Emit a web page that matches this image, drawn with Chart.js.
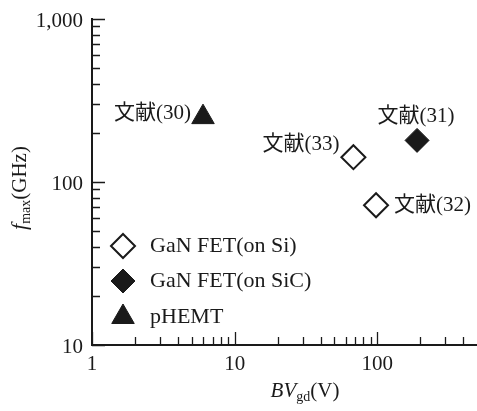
<!DOCTYPE html>
<html>
<head>
<meta charset="utf-8">
<script src="https://cdn.jsdelivr.net/npm/chart.js@4.4.1/dist/chart.umd.min.js"></script>
<style>
  html, body { margin: 0; padding: 0; background: #fff; }
  #wrap { width: 477px; height: 411px; }
</style>
</head>
<body>
<div id="wrap"><canvas id="chart"></canvas></div>
<script>
// values
const onSiX = [68, 98];
const onSiY = [142, 72];
const onSiRefs = ['文献(33)', '文献(32)'];

const onSiCX = [190];
const onSiCY = [180];
const onSiCRefs = ['文献(31)'];

const phemtX = [6];
const phemtY = [250];
const phemtRefs = ['文献(30)'];

const legendLabels = ['GaN FET(on Si)', 'GaN FET(on SiC)', 'pHEMT'];

const xMajorTicks = [1, 10, 100];
const xTickLabels = ['1', '10', '100'];
const xMinorTicks = [2, 3, 4, 5, 6, 7, 8, 9, 20, 30, 40, 50, 60, 70, 80, 90, 200, 300, 400];
const yMajorTicks = [10, 100, 1000];
const yTickLabels = ['10', '100', '1,000'];
const yMinorTicks = [20, 30, 40, 50, 60, 70, 80, 90, 200, 300, 400, 500, 600, 700, 800, 900];

const INK = '#1a1a1a';
const SERIF = '"Liberation Serif", "Times New Roman", serif';
const LABEL_FONT = '21px "Liberation Serif", "Noto Sans CJK JP", serif';

function toPoints(xs, ys) {
  return xs.map((x, i) => ({ x, y: ys[i] }));
}

// where each reference label sits relative to its marker
const labelPlacement = {
  '文献(30)': { dx: -12, dy: -4, align: 'right' },
  '文献(31)': { dx: -1, dy: -24, align: 'center' },
  '文献(33)': { dx: -14, dy: -13, align: 'right' },
  '文献(32)': { dx: 18, dy: 0, align: 'left' }
};

const datasets = [
  {
    label: legendLabels[0],
    data: toPoints(onSiX, onSiY),
    refs: onSiRefs,
    pointStyle: 'rectRot',
    pointRadius: 12,
    pointBackgroundColor: '#fff',
    pointBorderColor: INK,
    pointBorderWidth: 2
  },
  {
    label: legendLabels[1],
    data: toPoints(onSiCX, onSiCY),
    refs: onSiCRefs,
    pointStyle: 'rectRot',
    pointRadius: 12,
    pointBackgroundColor: INK,
    pointBorderColor: INK,
    pointBorderWidth: 1
  },
  {
    label: legendLabels[2],
    data: toPoints(phemtX, phemtY),
    refs: phemtRefs,
    pointStyle: 'triangle',
    pointRadius: 13,
    pointBackgroundColor: INK,
    pointBorderColor: INK,
    pointBorderWidth: 1
  }
];

function drawSegments(ctx, segments, x, y, align) {
  let total = 0;
  segments.forEach((s) => {
    ctx.font = s.font;
    s.w = ctx.measureText(s.text).width;
    total += s.w;
  });
  let cx = align === 'center' ? x - total / 2 : x;
  segments.forEach((s) => {
    ctx.font = s.font;
    ctx.fillText(s.text, cx, y + (s.dy || 0));
    cx += s.w;
  });
}

const decorations = {
  id: 'decorations',
  afterDraw(chart) {
    const { ctx, scales: { x, y }, chartArea } = chart;
    ctx.save();
    ctx.strokeStyle = INK;
    ctx.fillStyle = INK;

    // inward ticks
    ctx.lineWidth = 1.3;
    ctx.beginPath();
    xMajorTicks.forEach((v) => {
      const px = Math.round(x.getPixelForValue(v)) + 0.5;
      ctx.moveTo(px, chartArea.bottom);
      ctx.lineTo(px, chartArea.bottom - 13);
    });
    xMinorTicks.forEach((v) => {
      const px = Math.round(x.getPixelForValue(v)) + 0.5;
      ctx.moveTo(px, chartArea.bottom);
      ctx.lineTo(px, chartArea.bottom - 8);
    });
    yMajorTicks.forEach((v) => {
      const py = Math.round(y.getPixelForValue(v)) + 0.5;
      ctx.moveTo(chartArea.left, py);
      ctx.lineTo(chartArea.left + 13, py);
    });
    yMinorTicks.forEach((v) => {
      const py = Math.round(y.getPixelForValue(v)) + 0.5;
      ctx.moveTo(chartArea.left, py);
      ctx.lineTo(chartArea.left + 8, py);
    });
    ctx.stroke();

    // tick labels
    ctx.font = '21px ' + SERIF;
    ctx.textAlign = 'center';
    ctx.textBaseline = 'alphabetic';
    xMajorTicks.forEach((v, i) => {
      ctx.fillText(xTickLabels[i], x.getPixelForValue(v), chartArea.bottom + 25);
    });
    ctx.textAlign = 'right';
    ctx.textBaseline = 'middle';
    yMajorTicks.forEach((v, i) => {
      ctx.fillText(yTickLabels[i], chartArea.left - 9, y.getPixelForValue(v) + 2);
    });

    // axis titles
    ctx.textAlign = 'left';
    ctx.textBaseline = 'alphabetic';
    drawSegments(ctx, [
      { text: 'BV', font: 'italic 21px ' + SERIF },
      { text: 'gd', font: '14px ' + SERIF, dy: 4 },
      { text: '(V)', font: '21px ' + SERIF }
    ], 305, 397, 'center');

    ctx.save();
    ctx.translate(26, 188);
    ctx.rotate(-Math.PI / 2);
    drawSegments(ctx, [
      { text: 'f', font: 'italic 22px ' + SERIF },
      { text: 'max', font: '14px ' + SERIF, dy: 4 },
      { text: '(GHz)', font: '21px ' + SERIF }
    ], 0, 0, 'center');
    ctx.restore();

    // reference labels next to the markers
    ctx.font = LABEL_FONT;
    ctx.textBaseline = 'middle';
    chart.data.datasets.forEach((ds, di) => {
      const meta = chart.getDatasetMeta(di);
      meta.data.forEach((pt, i) => {
        const ref = ds.refs[i];
        const place = labelPlacement[ref];
        ctx.textAlign = place.align;
        ctx.fillText(ref, pt.x + place.dx, pt.y + place.dy);
      });
    });

    // legend inside the plot
    const rows = [246, 281, 317];
    chart.data.datasets.forEach((ds, di) => {
      const ry = rows[di];
      ctx.lineWidth = ds.pointBorderWidth;
      ctx.fillStyle = ds.pointBackgroundColor;
      ctx.strokeStyle = ds.pointBorderColor;
      Chart.helpers.drawPoint(ctx, {
        pointStyle: ds.pointStyle,
        radius: ds.pointRadius,
        rotation: 0,
        borderWidth: ds.pointBorderWidth
      }, 123, ry);
      ctx.fillStyle = INK;
      ctx.font = '22px ' + SERIF;
      ctx.textAlign = 'left';
      ctx.textBaseline = 'middle';
      ctx.fillText(ds.label, 150, ry);
    });

    ctx.restore();
  }
};

new Chart(document.getElementById('chart'), {
  type: 'scatter',
  data: { datasets },
  options: {
    responsive: true,
    maintainAspectRatio: false,
    animation: false,
    devicePixelRatio: 1,
    layout: { autoPadding: false, padding: { left: 92, top: 19, right: 0, bottom: 66 } },
    plugins: {
      legend: { display: false },
      tooltip: { enabled: false }
    },
    scales: {
      x: {
        type: 'logarithmic',
        position: 'bottom',
        min: 1,
        max: 500,
        grid: { display: false, drawTicks: false },
        ticks: { display: false },
        border: { display: true, color: INK, width: 2 },
        afterFit(scale) { scale.height = 0; }
      },
      y: {
        type: 'logarithmic',
        position: 'left',
        min: 10,
        max: 1000,
        grid: { display: false, drawTicks: false },
        ticks: { display: false },
        border: { display: true, color: INK, width: 2 },
        afterFit(scale) { scale.width = 0; }
      }
    }
  },
  plugins: [decorations]
});
</script>
</body>
</html>
